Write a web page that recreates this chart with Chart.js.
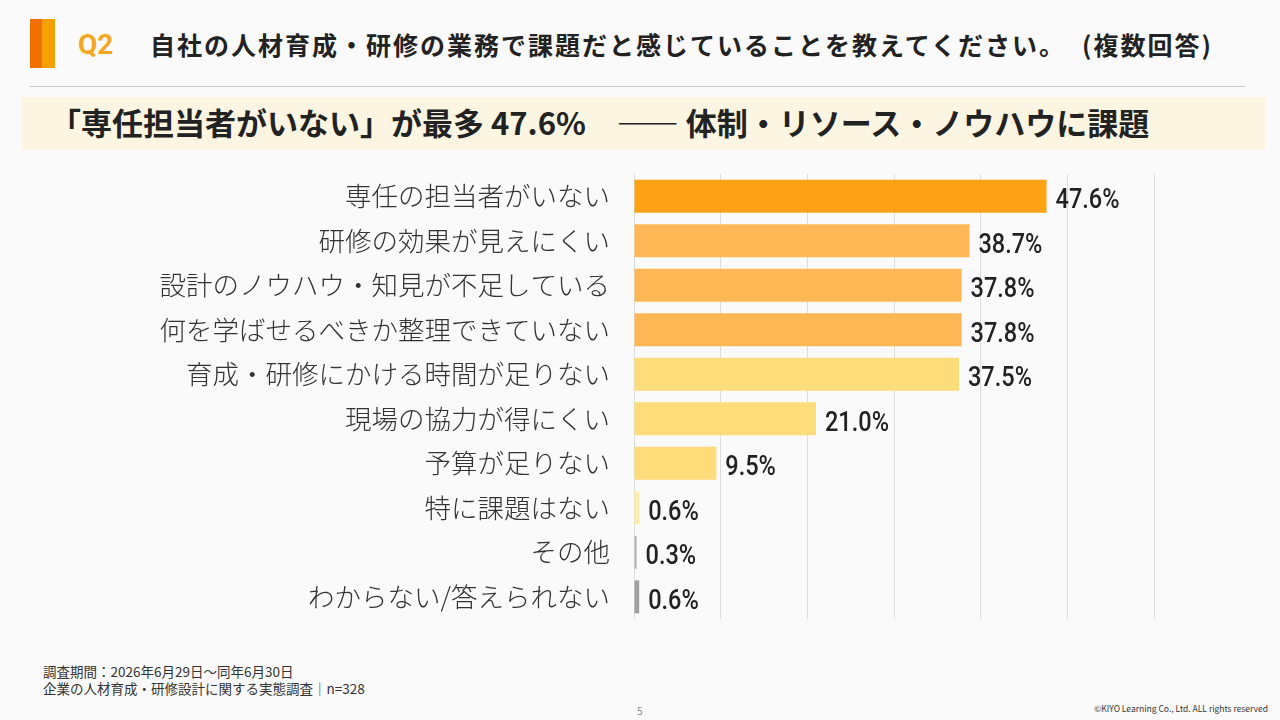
<!DOCTYPE html>
<html lang="ja">
<head>
<meta charset="utf-8">
<script src="https://cdn.jsdelivr.net/npm/chart.js@4.4.1/dist/chart.umd.min.js"></script>
<style>
  html, body { margin: 0; padding: 0; }
  body {
    width: 1280px; height: 720px; overflow: hidden; position: relative;
    background: #fafafa; font-family: "Noto Sans CJK JP", "Noto Sans", sans-serif; color: #222;
  }
  .mark { position: absolute; left: 30px; top: 19px; width: 25px; height: 49px;
    background: linear-gradient(to right, #f07000 0 48%, #f5a000 48% 100%); }
  .q { position: absolute; left: 78px; top: 27px; font-size: 28px; font-weight: 700; color: #f5a623; line-height: 36px;
    font-family: "Roboto", sans-serif; }
  .title { position: absolute; left: 150px; top: 26px; font-size: 25px; font-weight: 700; color: #222; line-height: 36px; letter-spacing: 2px; white-space: nowrap; }
  .title span { margin-left: 16px; }
  .rule { position: absolute; left: 30px; top: 86px; width: 1215px; height: 1px; background: #c8c8c8; }
  .banner { position: absolute; left: 22px; top: 97px; width: 1243px; height: 53px; background: #fbf5e1; }
  .banner span { position: absolute; left: 28px; top: 5px; font-size: 31px; font-weight: 700; line-height: 40px; color: #222; white-space: nowrap; }
  #wrap { position: absolute; left: 0; top: 142px; width: 1280px; height: 509px; }
  .foot { position: absolute; left: 43px; top: 663px; font-size: 13.5px; line-height: 17px; color: #333; }
  .page { position: absolute; left: 637px; top: 703px; font-size: 10px; color: #888; }
  .copy { position: absolute; right: 12px; top: 702px; font-size: 8.5px; color: #333; }
</style>
</head>
<body>
<div class="mark"></div>
<div class="q">Q2</div>
<div class="title">自社の人材育成・研修の業務で課題だと感じていることを教えてください。<span>(複数回答)</span></div>
<div class="rule"></div>
<div class="banner"><span>「専任担当者がいない」が最多 47.6%　—— 体制・リソース・ノウハウに課題</span></div>
<div id="wrap"><canvas id="challengeChart"></canvas></div>
<div class="foot">調査期間：2026年6月29日～同年6月30日<br>企業の人材育成・研修設計に関する実態調査｜n=328</div>
<div class="page">5</div>
<div class="copy">©KIYO Learning Co., Ltd. ALL rights reserved</div>
<script>
const categories = [
    '専任の担当者がいない',
    '研修の効果が見えにくい',
    '設計のノウハウ・知見が不足している',
    '何を学ばせるべきか整理できていない',
    '育成・研修にかける時間が足りない',
    '現場の協力が得にくい',
    '予算が足りない',
    '特に課題はない',
    'その他',
    'わからない/答えられない'
];
const percentValues = [47.6, 38.7, 37.8, 37.8, 37.5, 21.0, 9.5, 0.6, 0.3, 0.6];
const barColors = ['#ffa114', '#ffb755', '#ffb755', '#ffb755', '#ffdc7a', '#ffdc7a', '#ffdc7a', '#ffecaa', '#b4b4b4', '#a0a0a0'];
const xTicks = [0, 10, 20, 30, 40, 50, 60];

// value labels at the end of each bar (narrowed to look condensed)
const valueLabels = {
    id: 'valueLabels',
    afterDatasetsDraw(chart) {
        const ctx = chart.ctx;
        const meta = chart.getDatasetMeta(0);
        const squeeze = 0.84;
        ctx.save();
        ctx.font = '500 28px "Roboto", sans-serif';
        ctx.fillStyle = '#222';
        ctx.textAlign = 'left';
        ctx.textBaseline = 'middle';
        meta.data.forEach((bar, i) => {
            ctx.save();
            ctx.translate(bar.x + 9, bar.y + 5);
            ctx.scale(squeeze, 1);
            ctx.fillText(percentValues[i].toFixed(1) + '%', 0, 0);
            ctx.restore();
        });
        ctx.restore();
    }
};

document.addEventListener('DOMContentLoaded', () => {
    const ctx = document.getElementById('challengeChart').getContext('2d');
    new Chart(ctx, {
        type: 'bar',
        data: {
            labels: categories,
            datasets: [{
                data: percentValues,
                backgroundColor: barColors,
                borderWidth: 0,
                barPercentage: 0.74,
                categoryPercentage: 1
            }]
        },
        options: {
            indexAxis: 'y',
            responsive: true,
            maintainAspectRatio: false,
            animation: false,
            layout: { padding: { left: 0, right: 126, top: 14, bottom: 0 } },
            scales: {
                x: {
                    min: 0,
                    max: 60,
                    afterBuildTicks: (scale) => { scale.ticks = xTicks.map(v => ({ value: v })); },
                    ticks: { display: false },
                    grid: { color: '#dcdcdc', lineWidth: 1, drawTicks: false },
                    border: { display: false }
                },
                y: {
                    afterFit: (scale) => { scale.width = 634; },
                    grid: { display: false },
                    border: { display: false },
                    ticks: {
                        color: '#333',
                        padding: 16,
                        font: { family: '"Noto Sans CJK JP", sans-serif', size: 26.5, weight: 300 }
                    }
                }
            },
            plugins: {
                legend: { display: false },
                tooltip: { enabled: false }
            }
        },
        plugins: [valueLabels]
    });
});
</script>
</body>
</html>
